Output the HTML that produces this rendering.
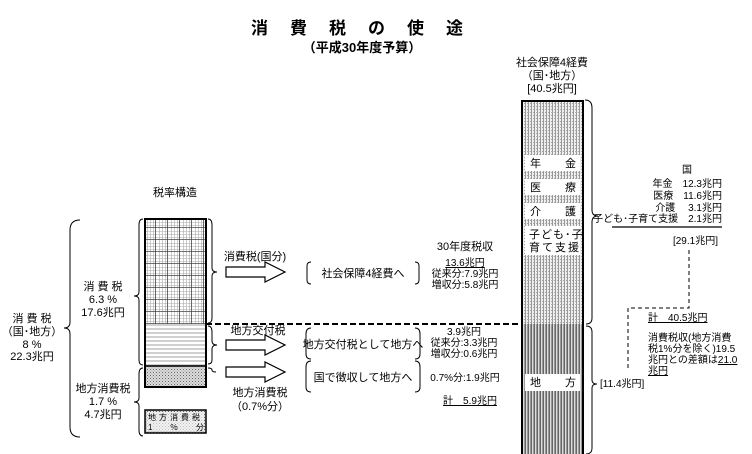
<!DOCTYPE html>
<html><head><meta charset="utf-8"><style>
body{margin:0;background:#fff}
svg{display:block}
text{font-family:"Liberation Sans","Noto Sans CJK JP",sans-serif;fill:#000}
</style></head><body>
<svg width="752" height="454" viewBox="0 0 752 454" xmlns="http://www.w3.org/2000/svg">
<defs>
<pattern id="grid" width="12" height="12" patternUnits="userSpaceOnUse">
<rect width="12" height="12" fill="#fff"/>
<path d="M0 3.5H12M0 6.5H12M0 9.5H12" stroke="#aaa" stroke-width="0.6"/>
<path d="M3.5 0V12M6.5 0V12M9.5 0V12" stroke="#aaa" stroke-width="0.6"/>
<path d="M0 11.5H12M11.5 0V12" stroke="#444" stroke-width="0.8"/>
</pattern>
<pattern id="hl" width="4" height="4" patternUnits="userSpaceOnUse">
<rect width="4" height="4" fill="#fff"/><path d="M0 1H4" stroke="#888" stroke-width="0.8"/>
</pattern>
<pattern id="dots" width="3" height="3" patternUnits="userSpaceOnUse">
<rect width="3" height="3" fill="#ddd"/><rect width="1" height="1" fill="#666"/><rect x="1.5" y="1.5" width="1" height="1" fill="#888"/>
</pattern>
<pattern id="vl" width="3" height="3" patternUnits="userSpaceOnUse">
<rect width="3" height="3" fill="#eee"/><rect width="1" height="3" fill="#999"/><rect x="2" y="1" width="1" height="1" fill="#aaa"/>
</pattern>
<pattern id="vl2" width="3" height="3" patternUnits="userSpaceOnUse">
<rect width="3" height="3" fill="#ddd"/><rect width="1" height="3" fill="#666"/><rect x="2" y="0" width="1" height="3" fill="#999"/>
</pattern>
</defs>

<text x="368" y="34" font-size="17" font-weight="bold" text-anchor="middle" letter-spacing="22">消費税の使途</text>
<text x="362" y="52" font-size="13" font-weight="bold" text-anchor="middle">（平成30年度予算）</text>

<text x="175" y="196" font-size="11" text-anchor="middle">税率構造</text>

<rect x="145" y="219" width="61" height="105" fill="url(#grid)"/>
<rect x="145" y="324" width="61" height="42" fill="url(#hl)"/>
<rect x="145" y="366" width="61" height="21" fill="url(#dots)"/>
<rect x="145" y="219" width="61" height="168" fill="none" stroke="#000" stroke-width="2"/>
<line x1="145" y1="366" x2="206" y2="366" stroke="#000" stroke-width="1.5"/>
<rect x="145" y="410" width="61" height="23" fill="url(#dots)" stroke="#000" stroke-width="1.5"/>
<rect x="147" y="412" width="57" height="19" fill="#fff" opacity="0.6"/>
<text x="148" y="420" font-size="8" letter-spacing="3">地方消費税</text>
<text x="148" y="430" font-size="8">1</text><text x="170" y="430" font-size="8">％</text><text x="196" y="430" font-size="8">分</text>

<path d="M80 220 Q70 220 70 230 V322 Q70 328 64 328 Q70 328 70 334 V427 Q70 437 80 437" fill="none" stroke="#000"/>
<path d="M143 219 Q139 219 139 225 V292 Q139 296 134 296 Q139 296 139 300 V360 Q139 365 143 365" fill="none" stroke="#000"/>
<path d="M143 368 Q139 368 139 374 V398 Q139 402 134 402 Q139 402 139 406 V430 Q139 436 143 436" fill="none" stroke="#000"/>
<path d="M208 219 Q212 219 212 225 V268 Q212 272 217 272 Q212 272 212 276 V318 Q212 323 208 323" fill="none" stroke="#000"/>
<path d="M208 326 Q212 326 212 332 V341 Q212 345 217 345 Q212 345 212 349 V360 Q212 364 208 364" fill="none" stroke="#000"/>
<path d="M208 368 Q212 368 212 370 Q212 372 216 372" fill="none" stroke="#000"/>

<text x="32" y="322" font-size="11" text-anchor="middle">消 費 税</text>
<text x="32" y="335" font-size="11" text-anchor="middle">（国･地方）</text>
<text x="32" y="348" font-size="11" text-anchor="middle">8 %</text>
<text x="32" y="360" font-size="11" text-anchor="middle">22.3兆円</text>
<text x="103" y="290" font-size="11" text-anchor="middle">消 費 税</text>
<text x="103" y="303" font-size="11" text-anchor="middle">6.3 %</text>
<text x="103" y="316" font-size="11" text-anchor="middle">17.6兆円</text>
<text x="103" y="392" font-size="11" text-anchor="middle">地方消費税</text>
<text x="103" y="405" font-size="11" text-anchor="middle">1.7 %</text>
<text x="103" y="418" font-size="11" text-anchor="middle">4.7兆円</text>

<g fill="#fff" stroke="#000" stroke-width="1.2">
<path d="M226 267 H265 V262 L285 272 L265 282 V277 H226 Z"/>
<path d="M226 340 H265 V335 L285 345 L265 355 V350 H226 Z"/>
<path d="M226 367 H265 V362 L285 372 L265 382 V377 H226 Z"/>
</g>
<text x="255" y="260" font-size="11" text-anchor="middle">消費税(国分)</text>
<text x="258" y="334" font-size="11" text-anchor="middle">地方交付税</text>
<text x="260" y="396" font-size="11" text-anchor="middle">地方消費税</text>
<text x="260" y="410" font-size="11" text-anchor="middle">（0.7%分）</text>

<line x1="206" y1="324" x2="522" y2="324" stroke="#000" stroke-width="2" stroke-dasharray="6,3"/>

<g fill="none" stroke="#000">
<path d="M311 262 Q307 262 307 266 V280 Q307 284 311 284"/>
<path d="M415 262 Q419 262 419 266 V280 Q419 284 415 284"/>
<path d="M311 328 Q306 328 306 334 V354 Q306 359 311 359"/>
<path d="M415 328 Q420 328 420 334 V354 Q420 359 415 359"/>
<path d="M311 361 Q306 361 306 367 V387 Q306 392 311 392"/>
<path d="M415 361 Q420 361 420 367 V387 Q420 392 415 392"/>
</g>
<text x="363" y="277" font-size="11" text-anchor="middle">社会保障4経費へ</text>
<text x="363" y="348" font-size="11" text-anchor="middle">地方交付税として地方へ</text>
<text x="363" y="381" font-size="11" text-anchor="middle">国で徴収して地方へ</text>

<text x="465" y="250" font-size="11" text-anchor="middle">30年度税収</text>
<text x="465" y="266" font-size="10" text-anchor="middle" text-decoration="underline">13.6兆円</text>
<text x="465" y="277" font-size="10" text-anchor="middle">従来分:7.9兆円</text>
<text x="465" y="288" font-size="10" text-anchor="middle">増収分:5.8兆円</text>
<text x="464" y="335" font-size="10" text-anchor="middle">3.9兆円</text>
<text x="464" y="346" font-size="10" text-anchor="middle">従来分:3.3兆円</text>
<text x="464" y="357" font-size="10" text-anchor="middle">増収分:0.6兆円</text>
<text x="465" y="381" font-size="10" text-anchor="middle">0.7%分:1.9兆円</text>
<text x="470" y="404" font-size="10" text-anchor="middle" text-decoration="underline">計　5.9兆円</text>

<text x="552" y="66" font-size="11" text-anchor="middle">社会保障4経費</text>
<text x="552" y="79" font-size="11" text-anchor="middle">（国･地方）</text>
<text x="552" y="92" font-size="11" text-anchor="middle">[40.5兆円]</text>
<rect x="522" y="101" width="61" height="223" fill="url(#vl)"/>
<rect x="522" y="324" width="61" height="130" fill="url(#vl2)"/>
<path d="M522 454 V101 H583 V454" fill="none" stroke="#000" stroke-width="2"/>
<g fill="#fff">
<rect x="525" y="155" width="55" height="16"/>
<rect x="525" y="179" width="55" height="16"/>
<rect x="525" y="203" width="55" height="16"/>
<rect x="525" y="226" width="55" height="29"/>
<rect x="525" y="374" width="55" height="17"/>
</g>
<text x="530" y="167" font-size="11">年</text><text x="576" y="167" font-size="11" text-anchor="end">金</text>
<text x="530" y="191" font-size="11">医</text><text x="576" y="191" font-size="11" text-anchor="end">療</text>
<text x="530" y="215" font-size="11">介</text><text x="576" y="215" font-size="11" text-anchor="end">護</text>
<text x="529" y="238" font-size="11" letter-spacing="1">子ども･子</text>
<text x="529" y="251" font-size="11" letter-spacing="2">育て支援</text>
<text x="530" y="386" font-size="11">地</text><text x="576" y="386" font-size="11" text-anchor="end">方</text>

<path d="M585 100 Q592 100 592 108 V210 Q592 216 598 216 Q592 216 592 222 V318 Q592 324 586 324" fill="none" stroke="#000"/>
<path d="M586 326 Q592 326 592 332 V380 Q592 384 597 384 Q592 384 592 388 V448 Q592 454 586 454" fill="none" stroke="#000"/>

<text x="687" y="173" font-size="10" text-anchor="middle">国</text>
<text x="722" y="187" font-size="10" text-anchor="end">年金　12.3兆円</text>
<text x="722" y="199" font-size="10" text-anchor="end">医療　11.6兆円</text>
<text x="722" y="211" font-size="10" text-anchor="end">介護　 3.1兆円</text>
<text x="722" y="222" font-size="10" text-anchor="end">子ども･子育て支援　2.1兆円</text>
<line x1="612" y1="227" x2="722" y2="227" stroke="#000" stroke-width="1.2"/>
<text x="718" y="244" font-size="10" text-anchor="end">[29.1兆円]</text>
<path d="M689 250 V308 H628 V368" fill="none" stroke="#000" stroke-dasharray="4,3"/>
<text x="648" y="321" font-size="10" text-decoration="underline">計　40.5兆円</text>
<text x="648" y="341" font-size="10">消費税収(地方消費</text>
<text x="648" y="352" font-size="10">税1%分を除く)19.5</text>
<text x="648" y="363" font-size="10">兆円との差額は<tspan text-decoration="underline">21.0</tspan></text>
<text x="648" y="374" font-size="10" text-decoration="underline">兆円</text>
<text x="600" y="387" font-size="10">[11.4兆円]</text>
</svg>
</body></html>
